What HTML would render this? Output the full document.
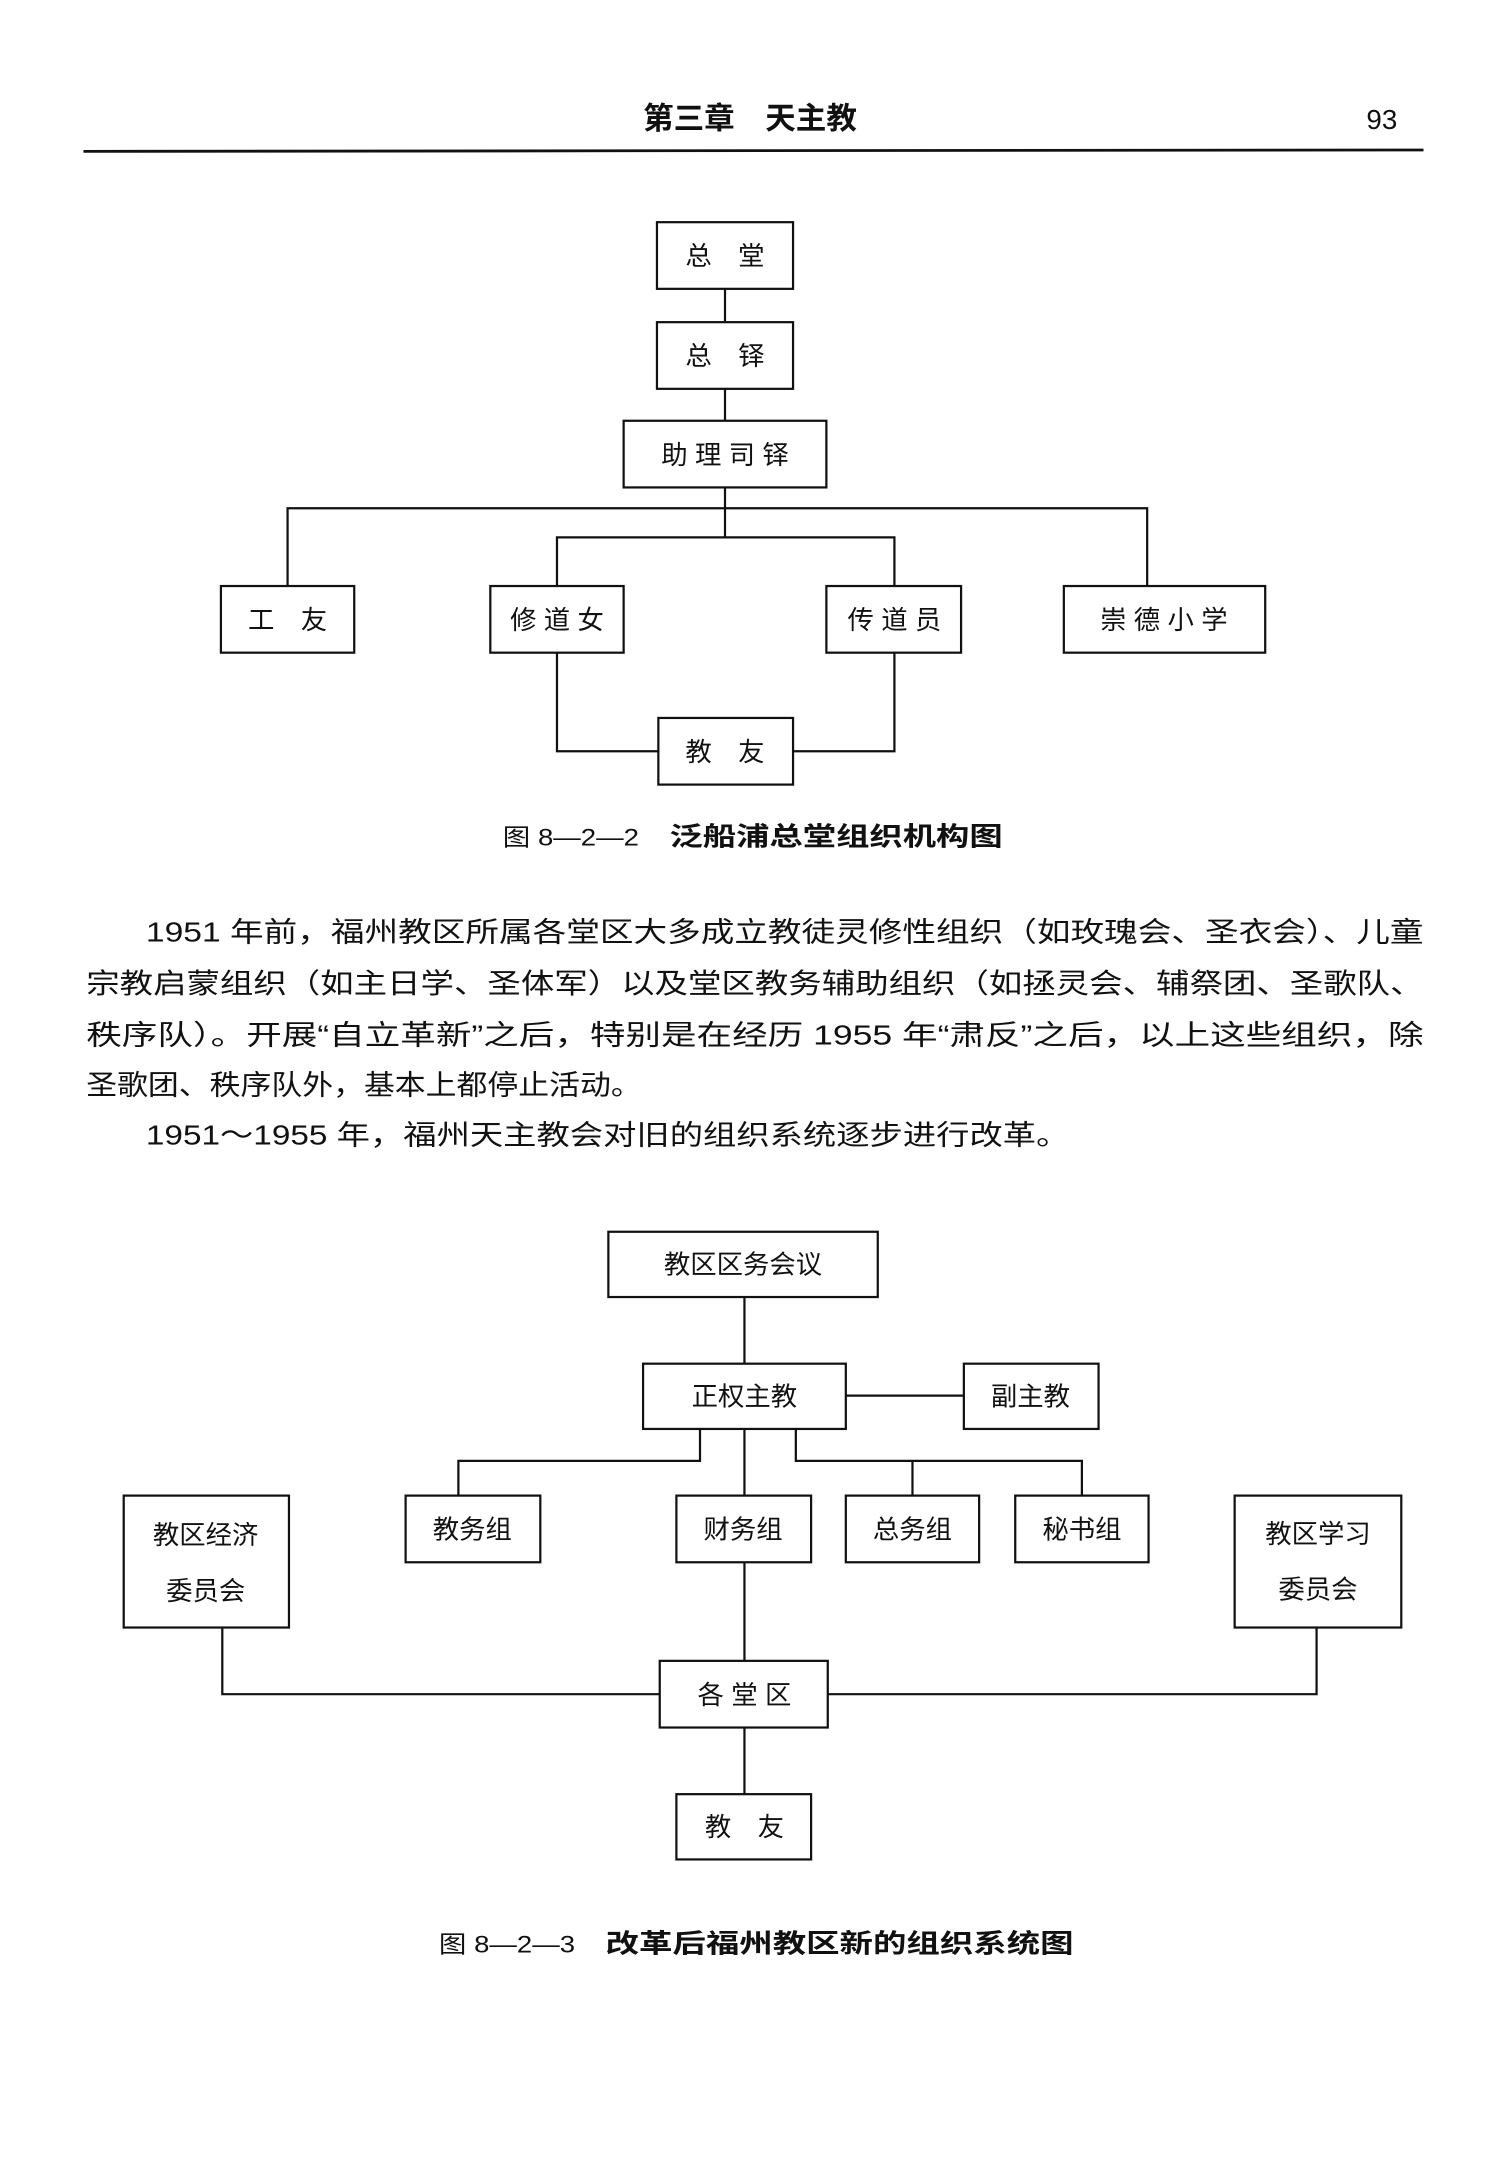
<!DOCTYPE html>
<html><head><meta charset="utf-8"><style>
html,body{margin:0;padding:0;background:#fff;}
svg{display:block;}
text{font-family:"Liberation Sans","Noto Sans CJK SC",sans-serif;fill:#111;}
</style></head><body>
<svg width="1500" height="2183" viewBox="0 0 1080 1572" xmlns="http://www.w3.org/2000/svg">
<g stroke="#111" fill="none" stroke-width="1.6">
<line x1="60" y1="109" x2="1025" y2="108" stroke-width="2"/>
<rect x="473" y="160" width="98" height="48"/>
<rect x="473" y="232" width="98" height="48"/>
<rect x="449" y="303" width="146" height="48"/>
<line x1="522" y1="208" x2="522" y2="232"/>
<line x1="522" y1="280" x2="522" y2="303"/>
<line x1="522" y1="351" x2="522" y2="387"/>
<polyline points="207,422 207,366 826,366 826,422"/>
<polyline points="401,422 401,387 644,387 644,422"/>
<rect x="159" y="422" width="96" height="48"/>
<rect x="353" y="422" width="96" height="48"/>
<rect x="595" y="422" width="97" height="48"/>
<rect x="766" y="422" width="145" height="48"/>
<rect x="474" y="517" width="97" height="48"/>
<polyline points="401,470 401,541 474,541"/>
<polyline points="644,470 644,541 571,541"/>
<rect x="438" y="887" width="194" height="47"/>
<rect x="463" y="982" width="146" height="47"/>
<rect x="694" y="982" width="97" height="47"/>
<line x1="536" y1="934" x2="536" y2="982"/>
<line x1="609" y1="1005" x2="694" y2="1005"/>
<polyline points="504,1029 504,1052 330,1052 330,1077"/>
<polyline points="573,1029 573,1052 779,1052 779,1077"/>
<line x1="657" y1="1052" x2="657" y2="1077"/>
<line x1="536" y1="1029" x2="536" y2="1077"/>
<rect x="292" y="1077" width="97" height="48"/>
<rect x="487" y="1077" width="97" height="48"/>
<rect x="609" y="1077" width="96" height="48"/>
<rect x="731" y="1077" width="96" height="48"/>
<rect x="89" y="1077" width="119" height="95"/>
<rect x="889" y="1077" width="120" height="95"/>
<line x1="536" y1="1125" x2="536" y2="1196"/>
<rect x="475" y="1196" width="121" height="48"/>
<polyline points="160,1172 160,1220 475,1220"/>
<polyline points="948,1172 948,1220 596,1220"/>
<line x1="536" y1="1244" x2="536" y2="1292"/>
<rect x="487" y="1292" width="97" height="47"/>
</g>
<text x="540" y="93" font-size="22" text-anchor="middle" font-weight="bold">第三章　天主教</text>
<text x="995" y="93" font-size="20" text-anchor="middle">93</text>
<g font-size="19" text-anchor="middle">
<text x="522" y="191">总　堂</text>
<text x="522" y="263">总　铎</text>
<text x="522" y="334">助 理 司 铎</text>
<text x="207" y="453">工　友</text>
<text x="401" y="453">修 道 女</text>
<text x="644" y="453">传 道 员</text>
<text x="838" y="453">崇 德 小 学</text>
<text x="522" y="548">教　友</text>
<text x="535" y="917">教区区务会议</text>
<text x="536" y="1012">正权主教</text>
<text x="742" y="1012">副主教</text>
<text x="340" y="1108">教务组</text>
<text x="535" y="1108">财务组</text>
<text x="657" y="1108">总务组</text>
<text x="779" y="1108">秘书组</text>
<text x="148" y="1112">教区经济</text>
<text x="148" y="1152">委员会</text>
<text x="949" y="1111">教区学习</text>
<text x="949" y="1151">委员会</text>
<text x="536" y="1227">各 堂 区</text>
<text x="536" y="1322">教　友</text>
</g>
<text x="362" y="609" font-size="17" textLength="98" lengthAdjust="spacingAndGlyphs">图 8—2—2</text>
<text x="482" y="609" font-size="19" font-weight="bold" textLength="240" lengthAdjust="spacingAndGlyphs">泛船浦总堂组织机构图</text>
<text x="316" y="1406" font-size="17" textLength="98" lengthAdjust="spacingAndGlyphs">图 8—2—3</text>
<text x="436" y="1406" font-size="19" font-weight="bold" textLength="337" lengthAdjust="spacingAndGlyphs">改革后福州教区新的组织系统图</text>
<g font-size="20">
<text x="105" y="678" textLength="920" lengthAdjust="spacingAndGlyphs">1951 年前，福州教区所属各堂区大多成立教徒灵修性组织（如玫瑰会、圣衣会）、儿童</text>
<text x="62" y="715" textLength="963" lengthAdjust="spacingAndGlyphs">宗教启蒙组织（如主日学、圣体军）以及堂区教务辅助组织（如拯灵会、辅祭团、圣歌队、</text>
<text x="62" y="752" textLength="963" lengthAdjust="spacingAndGlyphs">秩序队）。开展“自立革新”之后，特别是在经历 1955 年“肃反”之后，以上这些组织，除</text>
<text x="62" y="788" textLength="400" lengthAdjust="spacingAndGlyphs">圣歌团、秩序队外，基本上都停止活动。</text>
<text x="105" y="824" textLength="665" lengthAdjust="spacingAndGlyphs">1951～1955 年，福州天主教会对旧的组织系统逐步进行改革。</text>
</g>
</svg>
</body></html>
